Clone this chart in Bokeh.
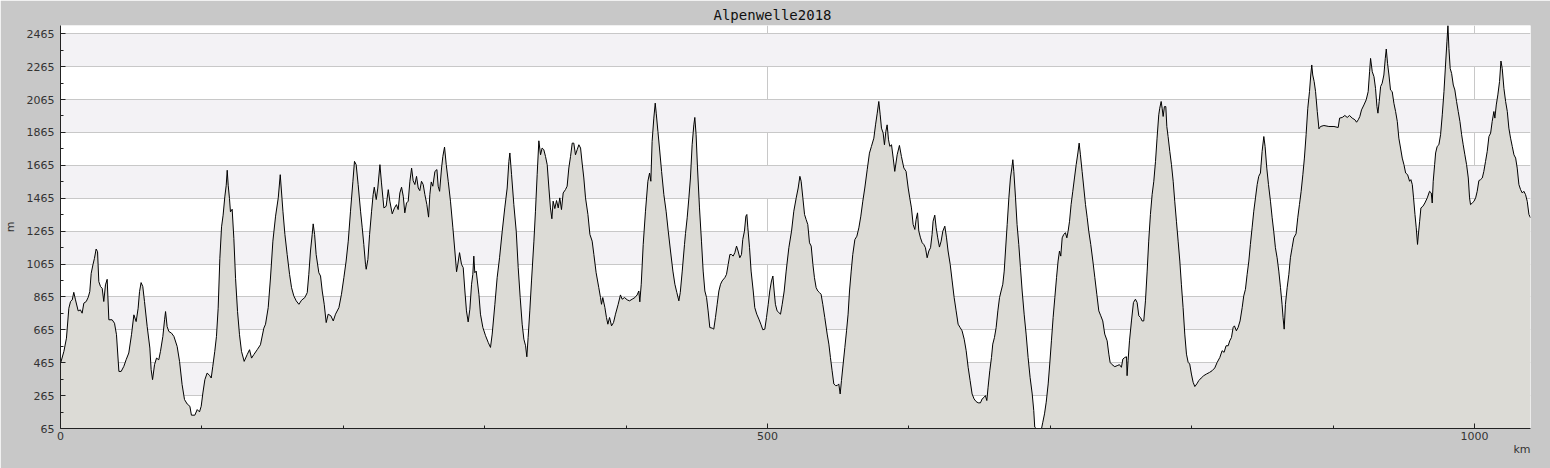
from bokeh.plotting import figure
from bokeh.models import FixedTicker, Range1d, Title, ColumnDataSource
from bokeh.embed import file_html
from bokeh.resources import INLINE

title_text = "Alpenwelle2018"
x_unit = "km"
y_unit = "m"

km = [
    0, 2.4, 4.2, 5.9, 7.1, 8.3, 9.4, 10.6, 12.5, 14.1, 15.3, 16.5, 18.2, 19.6, 20.7, 21.7, 22.9, 24.0, 25.2, 26.2,
    27.1, 28.3, 29.5, 30.6, 31.8, 33.0, 34.2, 36.5, 38.2, 39.6, 41.3, 42.9, 44.8, 46.4, 48.3, 50.2, 51.9, 53.5, 54.9, 55.9,
    57.0, 58.2, 59.4, 61.3, 63.2, 64.1, 65.1, 66.5, 67.9, 69.5, 70.7, 72.4, 73.6, 74.3, 75.4, 76.6, 78.5, 80.2, 82.5, 84.2,
    86.0, 87.7, 89.6, 91.5, 92.6, 95.0, 96.7, 98.3, 99.5, 100.7, 102.1, 103.7, 105.4, 106.6, 107.7, 109.1, 110.3, 111.5, 112.7, 113.9,
    115.0, 116.2, 117.2, 117.9, 118.6, 119.5, 120.2, 121.4, 122.6, 123.8, 125.2, 126.6, 128.0, 129.9, 132.0, 133.7, 135.1, 136.7, 139.1, 141.4,
    143.8, 145.0, 146.9, 148.5, 150.2, 152.1, 154.0, 155.4, 156.1, 157.3, 158.7, 160.3, 162.0, 163.4, 165.0, 166.7, 168.6, 170.5, 172.8, 174.5,
    175.6, 176.8, 178.0, 178.7, 179.7, 180.8, 182.7, 183.9, 185.1, 186.5, 187.9, 189.3, 191.2, 192.9, 194.5, 196.9, 198.7, 200.4, 202.0, 203.5,
    205.1, 206.8, 207.9, 209.1, 210.5, 212.2, 213.4, 214.5, 215.7, 216.2, 217.4, 218.6, 220.0, 221.1, 221.9, 223.3, 224.4, 225.9, 227.0, 228.7,
    230.3, 231.8, 232.9, 234.6, 236.2, 237.6, 238.8, 240.0, 241.2, 242.4, 243.5, 244.7, 245.9, 247.1, 248.3, 249.4, 250.6, 251.8, 253.0, 254.1,
    255.3, 256.5, 257.7, 259.1, 260.3, 261.2, 262.2, 263.3, 264.8, 266.2, 267.1, 268.1, 269.5, 270.4, 271.6, 272.8, 274.2, 275.8, 277.5, 278.9,
    280.1, 281.0, 282.2, 283.6, 284.8, 286.0, 287.1, 288.3, 289.5, 290.7, 291.6, 292.3, 293.0, 294.0, 295.9, 297.0, 298.7, 300.6, 302.5, 304.1,
    305.3, 307.2, 308.8, 310.5, 312.4, 314.2, 315.9, 317.1, 317.8, 319.0, 320.6, 322.3, 323.7, 325.1, 326.5, 327.7, 328.9, 329.8, 330.7, 331.9,
    333.1, 334.8, 335.9, 337.1, 338.3, 339.5, 340.6, 341.8, 343.0, 344.2, 345.4, 346.5, 347.5, 348.4, 349.6, 350.8, 352.0, 353.1, 354.3, 355.5,
    357.1, 358.3, 359.5, 360.7, 361.9, 363.0, 364.2, 365.4, 366.6, 367.8, 368.9, 370.1, 371.3, 373.0, 374.4, 376.0, 377.2, 378.8, 380.7, 381.9,
    382.6, 383.5, 385.0, 386.1, 387.1, 388.3, 389.7, 391.1, 392.5, 394.4, 396.0, 397.2, 398.9, 400.8, 402.4, 404.3, 406.2, 407.8, 409.0, 409.7,
    410.7, 412.1, 413.7, 415.4, 416.6, 417.5, 418.4, 419.6, 420.6, 421.3, 422.5, 423.6, 425.1, 426.7, 428.3, 429.8, 431.4, 433.1, 434.5, 435.9,
    437.3, 438.3, 439.7, 441.3, 442.0, 443.2, 444.4, 445.5, 446.7, 447.9, 448.6, 449.5, 450.5, 451.9, 453.3, 454.5, 455.7, 456.9, 458.0, 459.2,
    460.9, 462.0, 463.2, 464.4, 465.6, 466.8, 467.9, 469.8, 471.0, 472.2, 473.4, 474.5, 475.7, 476.9, 478.1, 479.2, 480.4, 481.6, 482.5, 483.7,
    484.7, 485.4, 486.1, 487.3, 488.4, 489.9, 491.0, 492.4, 493.9, 495.3, 496.7, 498.1, 499.3, 500.5, 501.6, 502.8, 503.8, 504.7, 505.6, 506.8,
    508.0, 509.2, 510.4, 511.8, 513.2, 515.1, 517.0, 518.6, 520.3, 521.7, 522.9, 523.8, 525.0, 526.2, 527.3, 528.5, 529.7, 530.9, 532.1, 533.2,
    534.4, 535.6, 536.8, 537.9, 539.1, 540.5, 542.2, 543.4, 544.5, 545.7, 546.9, 548.1, 549.3, 550.4, 551.4, 552.3, 553.5, 554.7, 555.9, 557.0,
    558.0, 559.2, 560.3, 561.8, 563.2, 564.6, 566.0, 567.4, 568.8, 570.5, 572.1, 573.5, 575.2, 576.4, 577.6, 578.7, 579.7, 580.6, 581.8, 582.7,
    583.7, 584.6, 585.6, 586.5, 587.7, 588.9, 590.0, 591.7, 593.3, 594.7, 596.4, 598.0, 599.5, 600.6, 601.8, 603.0, 604.2, 605.1, 606.1, 607.0,
    608.2, 609.4, 610.5, 611.7, 612.9, 614.1, 615.3, 616.4, 617.1, 618.3, 619.3, 620.4, 621.6, 622.8, 624.0, 625.4, 626.6, 627.7, 629.2, 630.6,
    632.0, 633.4, 634.8, 636.2, 637.6, 639.1, 640.5, 641.9, 643.3, 644.7, 646.1, 647.5, 649.0, 650.6, 651.8, 653.2, 654.1, 655.1, 656.0, 657.2,
    658.4, 659.3, 660.5, 661.7, 662.9, 664.1, 665.2, 666.4, 667.4, 668.3, 669.5, 670.7, 671.8, 672.8, 673.5, 674.2, 675.4, 676.5, 677.7, 678.9,
    680.1, 681.5, 682.9, 684.3, 685.7, 687.2, 688.3, 689.0, 690.0, 691.9, 693.8, 694.7, 695.9, 697.1, 698.5, 699.6, 700.8, 702.0, 703.2, 704.4,
    705.5, 706.5, 707.4, 708.4, 709.5, 710.7, 711.7, 712.6, 713.6, 714.7, 715.9, 717.1, 718.3, 719.5, 720.4, 721.3, 722.5, 723.7, 724.9, 726.1,
    727.2, 728.6, 730.1, 731.5, 732.9, 734.3, 735.7, 737.1, 738.5, 740.2, 741.4, 742.3, 743.7, 745.6, 747.3, 748.9, 750.3, 751.3, 752.7, 753.9,
    754.3, 755.0, 756.0, 757.4, 758.8, 760.2, 761.4, 762.6, 763.8, 764.9, 766.1, 767.3, 768.5, 769.6, 770.8, 772.0, 773.2, 774.4, 775.5, 776.7,
    777.4, 778.4, 779.1, 779.8, 780.7, 781.7, 782.4, 783.3, 784.5, 785.7, 786.9, 788.0, 789.2, 790.4, 791.6, 792.7, 793.9, 795.1, 796.3, 797.5,
    798.6, 799.8, 801.0, 802.2, 803.6, 805.0, 806.7, 808.5, 810.4, 812.6, 814.4, 816.3, 818.0, 819.9, 821.5, 822.9, 824.3, 825.8, 826.9, 828.1,
    829.3, 830.2, 831.6, 832.8, 834.2, 835.7, 836.8, 838.0, 839.2, 840.4, 841.5, 842.7, 843.9, 845.1, 846.3, 847.4, 848.6, 849.8, 851.0, 851.9,
    853.1, 854.3, 855.7, 856.9, 858.0, 859.2, 860.4, 861.6, 862.8, 863.9, 864.6, 865.4, 866.3, 867.5, 868.7, 869.8, 871.0, 872.2, 873.8, 875.0,
    876.2, 877.4, 878.6, 879.7, 880.9, 882.1, 883.3, 884.2, 884.9, 885.6, 886.6, 887.6, 888.8, 890.0, 891.1, 893.5, 897.0, 900.6, 903.6, 904.6,
    906.5, 908.3, 910.0, 911.6, 913.5, 915.4, 916.6, 917.8, 918.9, 920.1, 921.8, 923.4, 924.8, 925.8, 926.5, 927.7, 928.9, 930.0, 931.0, 931.7,
    932.6, 933.6, 934.7, 935.9, 936.9, 937.6, 938.5, 939.5, 940.6, 941.8, 943.0, 944.2, 945.4, 946.5, 947.7, 948.9, 950.1, 951.3, 952.7, 954.1,
    955.0, 956.0, 956.9, 957.9, 958.8, 959.7, 960.2, 961.2, 962.1, 963.5, 964.9, 966.6, 968.2, 969.4, 970.1, 970.8, 971.8, 972.5, 973.6, 974.8,
    976.0, 977.2, 978.4, 979.5, 980.5, 981.2, 981.9, 982.8, 983.8, 985.0, 986.1, 987.3, 988.5, 989.7, 990.9, 992.0, 993.2, 994.4, 995.6, 996.5,
    997.2, 998.4, 999.6, 1000.8, 1001.9, 1003.1, 1004.3, 1005.5, 1006.6, 1007.8, 1009.0, 1010.2, 1011.4, 1012.5, 1013.7, 1014.4, 1015.4, 1016.5, 1017.7, 1018.7,
    1019.6, 1020.8, 1022.0, 1023.2, 1024.3, 1025.5, 1026.7, 1027.9, 1029.1, 1030.2, 1031.4, 1032.6, 1033.8, 1034.9, 1036.1, 1037.3, 1038.5, 1039.6,
]

elevation = [
    460, 534, 614, 796, 837, 847, 893, 847, 780, 786, 766, 827, 837, 863, 897, 1008, 1059, 1099, 1156, 1140,
    958, 928, 917, 837, 938, 972, 726, 726, 705, 635, 412, 412, 443, 483, 524, 635, 756, 715, 796, 897,
    952, 928, 837, 685, 554, 423, 362, 453, 493, 483, 534, 625, 726, 776, 685, 655, 645, 625, 564, 473,
    332, 241, 214, 200, 146, 146, 180, 166, 200, 281, 362, 402, 388, 372, 443, 534, 625, 796, 1099, 1291,
    1362, 1473, 1544, 1635, 1544, 1463, 1382, 1398, 1220, 978, 776, 635, 534, 473, 514, 544, 493, 514, 544, 574,
    675, 699, 800, 980, 1204, 1356, 1467, 1608, 1527, 1386, 1245, 1123, 1002, 921, 871, 841, 820, 845, 861, 891,
    1002, 1144, 1245, 1309, 1245, 1123, 1012, 992, 901, 820, 709, 760, 750, 719, 760, 800, 881, 982, 1083, 1204,
    1386, 1568, 1689, 1669, 1548, 1386, 1285, 1184, 1063, 1033, 1093, 1245, 1386, 1487, 1532, 1457, 1527, 1669, 1558, 1406,
    1416, 1517, 1447, 1370, 1406, 1426, 1396, 1497, 1532, 1477, 1376, 1436, 1447, 1568, 1648, 1572, 1548, 1598, 1527, 1511,
    1568, 1548, 1487, 1426, 1350, 1487, 1564, 1538, 1628, 1639, 1538, 1507, 1649, 1719, 1776, 1669, 1568, 1447, 1285, 1144,
    1018, 1063, 1134, 1063, 1043, 901, 780, 713, 790, 942, 1002, 1113, 1012, 1022, 881, 760, 679, 629, 588, 558,
    639, 820, 982, 1103, 1265, 1406, 1527, 1689, 1740, 1608, 1426, 1265, 1043, 861, 699, 608, 568, 501, 618, 780,
    962, 1204, 1386, 1608, 1814, 1729, 1770, 1760, 1719, 1669, 1527, 1406, 1340, 1447, 1402, 1451, 1406, 1467, 1396, 1497,
    1517, 1538, 1649, 1719, 1800, 1800, 1729, 1760, 1790, 1770, 1679, 1588, 1467, 1366, 1245, 1204, 1123, 1012, 921, 861,
    820, 861, 800, 740, 699, 740, 689, 709, 760, 820, 877, 851, 861, 847, 841, 851, 861, 877, 901, 835,
    942, 1184, 1386, 1568, 1618, 1568, 1810, 1952, 2043, 1982, 1871, 1770, 1628, 1487, 1386, 1265, 1144, 1022, 942, 891,
    841, 891, 1022, 1184, 1250, 1346, 1467, 1588, 1790, 1911, 1956, 1851, 1649, 1406, 1204, 1022, 901, 861, 780, 679,
    675, 669, 740, 820, 901, 942, 962, 982, 1002, 1063, 1123, 1123, 1113, 1134, 1174, 1144, 1103, 1123, 1214, 1265,
    1356, 1366, 1285, 1164, 1022, 901, 800, 760, 730, 699, 665, 669, 740, 820, 901, 962, 992, 901, 820, 780,
    770, 760, 820, 901, 1022, 1164, 1265, 1386, 1467, 1527, 1598, 1568, 1467, 1366, 1336, 1305, 1194, 1174, 1063, 982,
    921, 901, 891, 881, 820, 740, 639, 578, 497, 416, 336, 326, 326, 336, 275, 356, 457, 558, 659, 760,
    901, 1022, 1123, 1214, 1234, 1285, 1356, 1447, 1527, 1638, 1739, 1780, 1830, 1911, 1982, 2053, 1972, 1891, 1861, 1790,
    1871, 1911, 1820, 1780, 1790, 1709, 1628, 1729, 1786, 1719, 1649, 1628, 1527, 1467, 1406, 1305, 1275, 1336, 1376, 1265,
    1224, 1194, 1184, 1164, 1103, 1144, 1164, 1245, 1325, 1362, 1285, 1224, 1168, 1204, 1265, 1295, 1224, 1144, 1063, 962,
    861, 780, 699, 679, 659, 608, 538, 437, 356, 275, 245, 229, 221, 221, 245, 255, 265, 235, 316, 416,
    497, 578, 618, 679, 780, 861, 901, 942, 1022, 1144, 1305, 1467, 1588, 1649, 1699, 1628, 1467, 1305, 1184, 1043,
    901, 760, 639, 497, 376, 275, 174, 73, 65, 65, 65, 103, 154, 225, 336, 457, 598, 740, 861, 982,
    1083, 1144, 1113, 1224, 1245, 1255, 1224, 1265, 1325, 1426, 1507, 1588, 1669, 1740, 1800, 1729, 1628, 1527, 1426, 1346,
    1265, 1184, 1083, 982, 881, 780, 750, 719, 639, 598, 517, 467, 453, 441, 447, 453, 437, 487, 497, 501,
    386, 477, 598, 719, 831, 851, 831, 750, 740, 719, 719, 841, 1022, 1204, 1366, 1487, 1568, 1689, 1830, 1972,
    2012, 2053, 2012, 1962, 2022, 2022, 1901, 1840, 1750, 1669, 1568, 1447, 1325, 1204, 1083, 942, 800, 639, 517, 467,
    457, 396, 346, 320, 336, 356, 372, 386, 396, 406, 416, 433, 467, 497, 538, 528, 568, 568, 598, 618,
    679, 689, 659, 679, 719, 800, 871, 911, 1002, 1083, 1184, 1285, 1386, 1467, 1548, 1598, 1618, 1750, 1840, 1780,
    1648, 1548, 1447, 1346, 1265, 1164, 1103, 1022, 921, 820, 740, 669, 820, 921, 1002, 1103, 1164, 1224, 1249, 1346,
    1426, 1507, 1608, 1709, 1851, 2012, 2113, 2214, 2275, 2214, 2174, 2113, 1992, 1887, 1901, 1907, 1901, 1901, 1895, 1952,
    1956, 1968, 1956, 1968, 1952, 1942, 1927, 1942, 1962, 2002, 2032, 2063, 2113, 2234, 2315, 2234, 2204, 2133, 2022, 1982,
    2053, 2144, 2164, 2214, 2315, 2372, 2285, 2214, 2123, 2113, 2042, 1992, 1931, 1830, 1770, 1709, 1669, 1618, 1608, 1568,
    1578, 1548, 1467, 1366, 1285, 1184, 1235, 1325, 1406, 1416, 1436, 1467, 1507, 1497, 1436, 1568, 1669, 1740, 1780, 1790,
    1851, 1972, 2113, 2275, 2416, 2515, 2376, 2254, 2224, 2153, 2123, 2053, 1992, 1931, 1851, 1790, 1729, 1669, 1588, 1467,
    1426, 1436, 1446, 1467, 1507, 1572, 1578, 1588, 1628, 1689, 1750, 1840, 1861, 1931, 1992, 1952, 2032, 2093, 2174, 2299,
    2254, 2133, 2053, 1992, 1891, 1830, 1780, 1729, 1709, 1648, 1548, 1517, 1497, 1507, 1487, 1446, 1366, 1346,
]

y_ticks = [65, 265, 465, 665, 865, 1065, 1265, 1465, 1665, 1865, 2065, 2265, 2465]
y_minor_ticks = [165, 365, 565, 765, 965, 1165, 1365, 1565, 1765, 1965, 2165, 2365]
x_ticks = [0, 500, 1000]
x_minor_ticks = [100, 200, 300, 400, 500, 600, 700, 800, 900, 1000]

assert len(km) == len(elevation), (len(km), len(elevation))

src = ColumnDataSource(data=dict(km=km, elev=elevation, base=[y_ticks[0]] * len(km)))

p = figure(
    width=1550, height=468,
    output_backend="svg", toolbar_location=None,
    x_range=Range1d(km[0], km[-1]), y_range=Range1d(y_ticks[0], max(elevation)),
    min_border_left=60, min_border_right=20, min_border_top=25, min_border_bottom=40,
)
p.background_fill_color = "white"
p.border_fill_color = "#c8c8c8"
p.outline_line_color = None

p.title.text = title_text
p.title.align = "left"
p.title.offset = 653
p.title.standoff = 6
p.title.text_font = "DejaVu Sans Mono"
p.title.text_font_size = "14px"
p.title.text_font_style = "normal"
p.title.text_color = "#111111"

for ax in (p.xaxis[0], p.yaxis[0]):
    ax.major_tick_in = 5
    ax.major_tick_out = 0
    ax.minor_tick_in = 3
    ax.minor_tick_out = 0
    ax.axis_line_color = "#222222"
    ax.major_tick_line_color = "#222222"
    ax.minor_tick_line_color = "#222222"
    ax.major_label_text_font = "DejaVu Sans"
    ax.major_label_text_font_size = "11px"
    ax.major_label_text_color = "#333333"

p.yaxis[0].ticker = FixedTicker(ticks=y_ticks, minor_ticks=y_minor_ticks)
p.xaxis[0].ticker = FixedTicker(ticks=x_ticks, minor_ticks=x_minor_ticks)
p.yaxis[0].major_label_standoff = 6
p.xaxis[0].major_label_standoff = 3
p.yaxis[0].axis_label = y_unit
p.yaxis[0].axis_label_text_font = "DejaVu Sans"
p.yaxis[0].axis_label_text_font_size = "11px"
p.yaxis[0].axis_label_text_font_style = "normal"
p.yaxis[0].axis_label_text_color = "#333333"
p.yaxis[0].axis_label_standoff = 7

km_title = Title(text=x_unit, align="right", vertical_align="top", standoff=0,
                 text_font="DejaVu Sans", text_font_size="11px", text_font_style="normal",
                 text_color="#333333")
p.add_layout(km_title, "below")

p.ygrid.grid_line_color = "#c8c8c8"
p.ygrid.band_fill_color = "#f3f2f5"
p.ygrid.band_fill_alpha = 1.0
p.xgrid.grid_line_color = "#c8c8c8"

p.varea(x="km", y1="base", y2="elev", source=src, fill_color="#dcdbd6")
p.line(x="km", y="elev", source=src, line_color="black", line_width=1)

html = file_html(p, INLINE, title=title_text)
html = html.replace("<body>", '<body style="margin:0;overflow:hidden;background-color:#c8c8c8;">', 1)
open("out.html", "w").write(html)
